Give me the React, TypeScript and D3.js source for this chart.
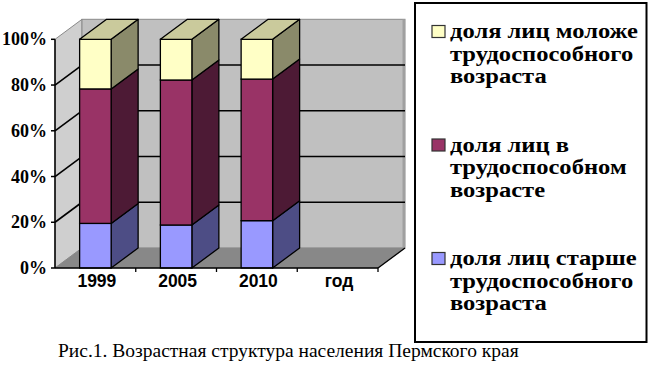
import React from "react";
import * as d3 from "d3";

const categories = ["1999", "2005", "2010", "год"];
const years = ["1999", "2005", "2010"];
const olderShare = [19.5, 18.8, 20.7];
const workingShare = [58.8, 63.4, 61.9];
const youngerShare = [21.7, 17.8, 17.4];
const yTicks = [0, 20, 40, 60, 80, 100];
const seriesKeys = ["older", "working", "younger"];
const legendItems = [
  { key: "younger", lines: ["доля лиц моложе", "трудоспособного", "возраста"] },
  { key: "working", lines: ["доля лиц в", "трудоспособном", "возрасте"] },
  { key: "older", lines: ["доля лиц старше", "трудоспособного", "возраста"] },
];
const caption = "Рис.1. Возрастная структура населения Пермского края";

const colors: Record<string, { front: string; side: string; top: string }> = {
  older: { front: "#9999FF", side: "#4D4D85", top: "#7777CC" },
  working: { front: "#993366", side: "#4D1A35", top: "#772850" },
  younger: { front: "#FFFFC6", side: "#8A8A6A", top: "#CACA9C" },
};

export default function App() {
  const W = 648, H = 392;
  const x0 = 55, x1 = 378;
  const DX = 27, DY = -20;
  const x = d3.scaleBand<string>().domain(categories).range([x0, x1]).paddingInner(0.61).paddingOuter(0.305);
  const y = d3.scaleLinear().domain([0, 100]).range([268, 39.3]);

  const rows = years.map((yr, i) => ({ year: yr, older: olderShare[i], working: workingShare[i], younger: youngerShare[i] }));
  const stacked = d3.stack<any>().keys(seriesKeys)(rows);

  const pts = (arr: [number, number][]) => arr.map((p) => p.join(",")).join(" ");
  const bw = x.bandwidth();
  const step = x.step();

  const bars: React.ReactNode[] = [];
  years.forEach((yr, i) => {
    const bx = x(yr)!;
    stacked.forEach((s, si) => {
      const [a, b] = s[i];
      const yb = y(a), yt = y(b);
      const c = colors[s.key];
      bars.push(
        <polygon key={`s-${yr}-${s.key}`} points={pts([[bx + bw, yb], [bx + bw + DX, yb + DY], [bx + bw + DX, yt + DY], [bx + bw, yt]])}
          fill={c.side} stroke="#000" strokeWidth={1.3} strokeLinejoin="round" />
      );
      bars.push(
        <rect key={`f-${yr}-${s.key}`} x={bx} y={yt} width={bw} height={yb - yt} fill={c.front} stroke="#000" strokeWidth={1.3} />
      );
      if (si === stacked.length - 1) {
        bars.push(
          <polygon key={`t-${yr}`} points={pts([[bx, yt], [bx + DX, yt + DY], [bx + bw + DX, yt + DY], [bx + bw, yt]])}
            fill={c.top} stroke="#000" strokeWidth={1.3} strokeLinejoin="round" />
        );
      }
    });
  });

  const serif = { fontFamily: '"Liberation Serif"' };
  const sans = { fontFamily: '"Liberation Sans"' };
  const lgX = 450;

  return (
    <svg width={W} height={H} style={{ position: "absolute", left: 0, top: 0, background: "#fff" }}>
      <polygon points={pts([[x0, y(0)], [x0, y(100)], [x0 + DX, y(100) + DY], [x0 + DX, y(0) + DY]])} fill="#CFCFCF" stroke="#8A8A8A" strokeWidth={1} />
      <rect x={x0 + DX} y={y(100) + DY} width={x1 - x0} height={y(0) - y(100)} fill="#C0C0C0" stroke="#8A8A8A" strokeWidth={1} />
      <rect x={x1 + DX - 2.5} y={y(100) + DY} width={2.5} height={y(0) - y(100)} fill="#A0A0A0" />
      <polygon points={pts([[x0, y(0)], [x0 + DX, y(0) + DY], [x1 + DX, y(0) + DY], [x1, y(0)]])} fill="#888888" stroke="#888888" strokeWidth={0.5} />
      <line x1={x1} y1={y(0)} x2={x1 + DX} y2={y(0) + DY} stroke="#000" strokeWidth={1.3} />
      {yTicks.filter((t) => t > 0 && t < 100).map((t) => (
        <g key={`g${t}`}>
          <line x1={x0} y1={y(t)} x2={x0 + DX} y2={y(t) + DY} stroke="#000" strokeWidth={1.6} />
          <line x1={x0 + DX} y1={y(t) + DY} x2={x1 + DX} y2={y(t) + DY} stroke="#000" strokeWidth={1.6} />
        </g>
      ))}
      {bars}
      <line x1={x0} y1={y(0)} x2={x0} y2={y(100)} stroke="#000" strokeWidth={1.5} />
      <line x1={x0} y1={y(0)} x2={x1} y2={y(0)} stroke="#000" strokeWidth={1.5} />
      {yTicks.map((t) => (
        <g key={`yt${t}`}>
          <line x1={x0 - 4} y1={y(t)} x2={x0} y2={y(t)} stroke="#000" strokeWidth={1.5} />
          <text x={47} y={y(t) + 6} textAnchor="end" style={serif} fontWeight="bold" fontSize={18}>{`${t}%`}</text>
        </g>
      ))}
      {categories.map((c, i) => (
        <line key={`xt${c}`} x1={x0 + step * (i + 1)} y1={y(0)} x2={x0 + step * (i + 1)} y2={y(0) + 4} stroke="#000" strokeWidth={1.3} />
      ))}
      {categories.map((c) => (
        <text key={`xl${c}`} x={x(c)! + bw / 2 + 1.5} y={287} textAnchor="middle" style={sans} fontWeight="bold" fontSize={17.5}>{c}</text>
      ))}
      <rect x={415} y={3} width={231.5} height={339} fill="#fff" stroke="#000" strokeWidth={2} />
      {legendItems.map((it, i) => {
        const base = 38.5 + i * 113.5;
        return (
          <g key={`lg${it.key}`}>
            <rect x={432} y={base - 13} width={13} height={12} fill={colors[it.key].front} stroke="#333" strokeWidth={1.2} />
            <g transform={`translate(${lgX},0) scale(1.17,1)`}>
              {it.lines.map((ln, j) => (
                <text key={j} x={0} y={base + j * 22.5} style={serif} fontWeight="bold" fontSize={21}>{ln}</text>
              ))}
            </g>
          </g>
        );
      })}
      <text x={58} y={357} style={serif} fontSize={19.5}>{caption}</text>
    </svg>
  );
}
